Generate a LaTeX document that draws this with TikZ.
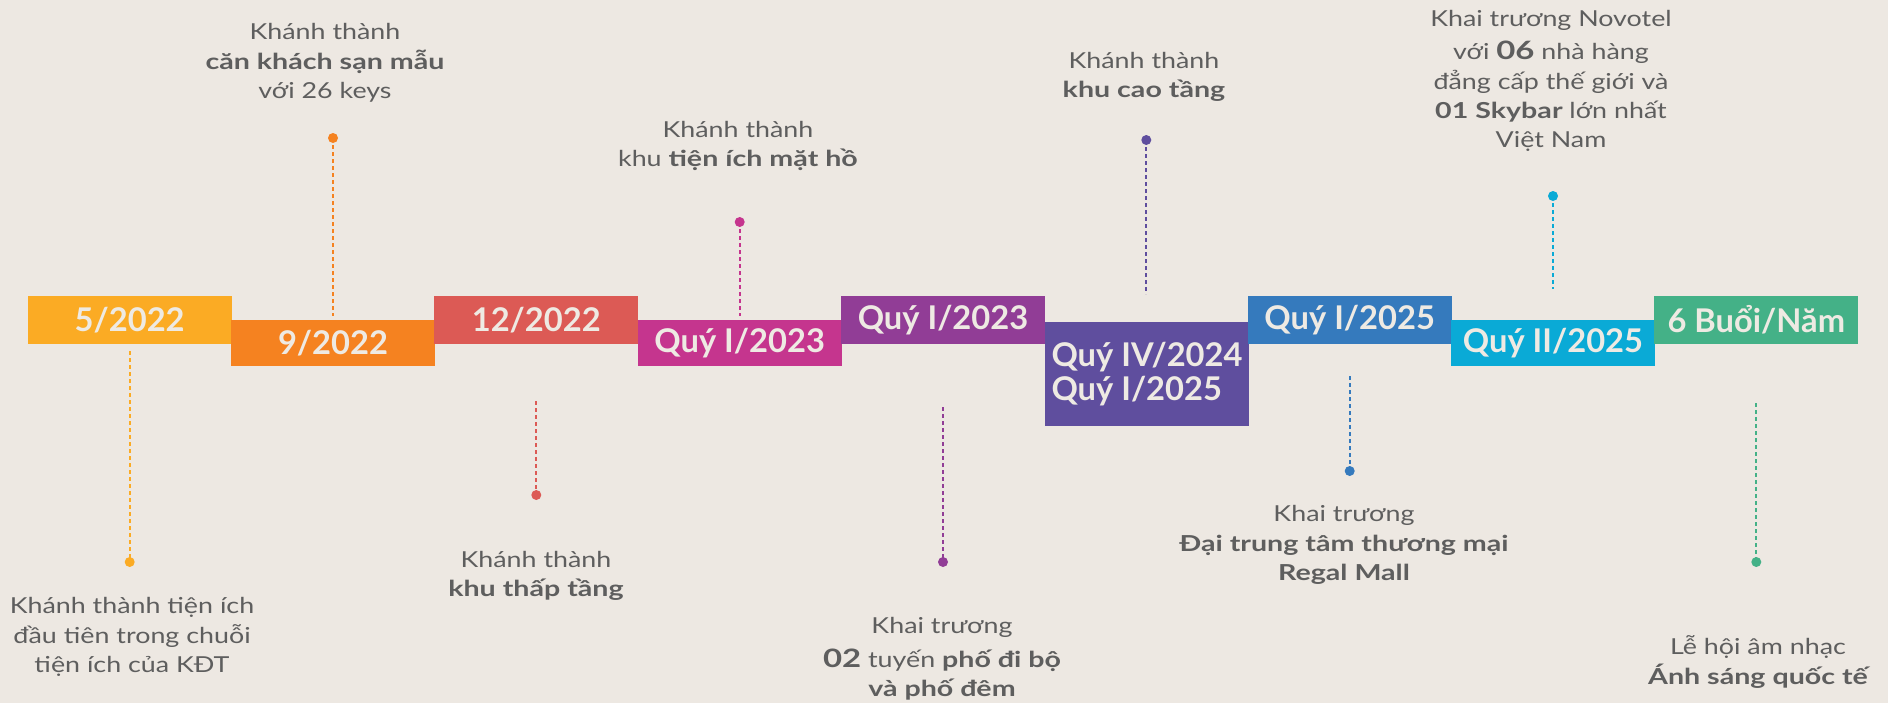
\documentclass[tikz,border=0pt]{standalone}
\usepackage{fontspec}
\setmainfont{Lato}[FakeStretch=1.22]
\newfontfamily\boxfont{Lato}
\newfontfamily\boldwide{Lato}[FakeStretch=1.3]
\definecolor{bgc}{HTML}{EDE8E2}
\definecolor{txtc}{HTML}{5E5E5E}
\definecolor{boxtxt}{HTML}{EEEAE3}
\definecolor{cA}{HTML}{FBAB24}
\definecolor{cB}{HTML}{F58220}
\definecolor{cC}{HTML}{DC5A55}
\definecolor{cD}{HTML}{C5358E}
\definecolor{cE}{HTML}{913D96}
\definecolor{cF}{HTML}{5F4E9E}
\definecolor{cG}{HTML}{357ABD}
\definecolor{cH}{HTML}{0AAAD6}
\definecolor{cI}{HTML}{44B187}
\newcommand{\bb}[1]{{\boldwide\bfseries #1}}
\newcommand{\bignum}[1]{{\fontsize{19}{22}\selectfont\boldwide\bfseries #1}}
\begin{document}
\begin{tikzpicture}[x=0.75pt,y=-0.75pt,
  datebox/.style={rectangle, minimum width=152.8pt, inner sep=0pt, text=boxtxt,
    font=\boxfont\fontsize{24.5}{28}\selectfont\bfseries},
  upbox/.style={datebox, minimum height=36pt},
  lowbox/.style={datebox, minimum height=34.5pt},
  dotn/.style={circle, inner sep=0pt, minimum size=7.5pt},
  conn/.style={dash pattern=on 3pt off 2.25pt, line width=1.5pt},
  lbl/.style={align=center, text=txtc, inner sep=0pt, font=\fontsize{16.5}{22}\selectfont}]
\fill[bgc] (0,0) rectangle (1888,703);
\useasboundingbox (0,0) rectangle (1888,703);
% boxes
\node[upbox, fill=cA] (b1) at (129.7,320) {5/2022};
\node[lowbox, fill=cB] (b2) at (333,343) {9/2022};
\node[upbox, fill=cC] (b3) at (536.3,320) {12/2022};
\node[lowbox, fill=cD] (b4) at (739.7,343) {Quý I/2023};
\node[upbox, fill=cE] (b5) at (943,320) {Quý I/2023};
\node[datebox, minimum height=78pt, fill=cF, align=left, font=\boxfont\fontsize{24.5}{25.5}\selectfont\bfseries] (b6) at (1147,374) {Quý IV/2024\\Quý I/2025};
\node[upbox, fill=cG] (b7) at (1349.7,320) {Quý I/2025};
\node[lowbox, fill=cH] (b8) at (1553,343) {Quý II/2025};
\node[upbox, fill=cI] (b9) at (1756.3,320) {6 Buổi/Năm};
% connector ends
\coordinate (e1) at (129.7,351);
\coordinate (e2) at (333,316);
\coordinate (e3) at (536.3,401);
\coordinate (e4) at (739.7,316);
\coordinate (e5) at (943,407);
\coordinate (e6) at (1146.3,294);
\coordinate (e7) at (1349.7,376);
\coordinate (e8) at (1553,289);
\coordinate (e9) at (1756.3,403);
% dots
\node[dotn, fill=cA] (d1) at (129.7,562) {};
\node[dotn, fill=cB] (d2) at (333,138) {};
\node[dotn, fill=cC] (d3) at (536.3,495) {};
\node[dotn, fill=cD] (d4) at (739.7,222) {};
\node[dotn, fill=cE] (d5) at (943,562) {};
\node[dotn, fill=cF] (d6) at (1146.3,140) {};
\node[dotn, fill=cG] (d7) at (1349.7,471) {};
\node[dotn, fill=cH] (d8) at (1553,196) {};
\node[dotn, fill=cI] (d9) at (1756.3,562) {};
% connectors
\draw[conn, cA] (e1) -- (d1.center);
\draw[conn, cB] (d2.center) -- (e2);
\draw[conn, cC] (e3) -- (d3.center);
\draw[conn, cD] (d4.center) -- (e4);
\draw[conn, cE] (e5) -- (d5.center);
\draw[conn, cF] (d6.center) -- (e6);
\draw[conn, cG] (e7) -- (d7.center);
\draw[conn, cH] (d8.center) -- (e8);
\draw[conn, cI] (e9) -- (d9.center);
% labels
\node[lbl] (t1) at (132,637) {Khánh thành tiện ích\\đầu tiên trong chuỗi\\tiện ích của KĐT};
\node[lbl] (t2) at (325,63) {Khánh thành\\\bb{căn khách sạn mẫu}\\với 26 keys};
\node[lbl] (t3) at (536,576) {Khánh thành\\\bb{khu thấp tầng}};
\node[lbl] (t4) at (738,146) {Khánh thành\\khu \bb{tiện ích mặt hồ}};
\node[lbl] (t5) at (942,659) {Khai trương\\[3pt]\bignum{02} tuyến \bb{phố đi bộ}\\\bb{và phố đêm}};
\node[lbl] (t6) at (1144,77) {Khánh thành\\\bb{khu cao tầng}};
\node[lbl] (t7) at (1344,545) {Khai trương\\\bb{Đại trung tâm thương mại}\\\bb{Regal Mall}};
\node[lbl] (t8) at (1551,81) {Khai trương Novotel\\[3pt]với \bignum{06} nhà hàng\\đẳng cấp thế giới và\\\bb{01 Skybar} lớn nhất\\Việt Nam};
\node[lbl] (t9) at (1758,662) {Lễ hội âm nhạc\\\bb{Ánh sáng quốc tế}};
\end{tikzpicture}
\end{document}
